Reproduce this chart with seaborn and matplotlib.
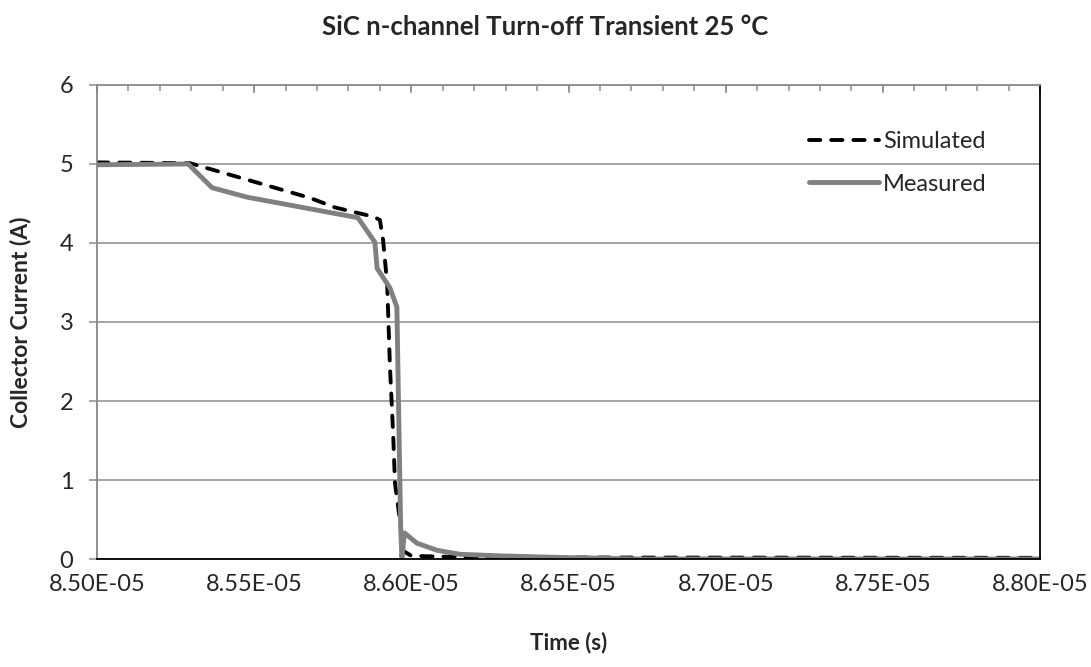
import numpy as np
import pandas as pd
import matplotlib
matplotlib.use("Agg")
import matplotlib.pyplot as plt
from matplotlib.ticker import FuncFormatter, NullFormatter
import seaborn as sns

# Simulated collector current during turn-off (time in s, current in A)
sim_time = [8.5000e-05, 8.5296e-05, 8.5678e-05, 8.5757e-05, 8.5882e-05, 8.5900e-05,
            8.5910e-05, 8.5923e-05, 8.5932e-05, 8.5942e-05, 8.5948e-05, 8.5965e-05,
            8.5975e-05, 8.6000e-05, 8.6200e-05, 8.8000e-05]
sim_current = [5.02, 5.01, 4.57, 4.45, 4.33, 4.29,
               4.04, 3.49, 2.43, 1.59, 0.96, 0.45,
               0.10, 0.04, 0.02, 0.015]

# Measured collector current
meas_time = [8.5000e-05, 8.5290e-05, 8.5366e-05, 8.5477e-05, 8.5830e-05, 8.5884e-05,
             8.5891e-05, 8.5932e-05, 8.5954e-05, 8.5966e-05, 8.5970e-05, 8.5978e-05,
             8.6018e-05, 8.6082e-05, 8.6155e-05, 8.6282e-05, 8.6473e-05, 8.6727e-05,
             8.8000e-05]
meas_current = [4.99, 5.00, 4.70, 4.58, 4.32, 4.01,
                3.68, 3.43, 3.19, 0.40, 0.02, 0.33,
                0.20, 0.11, 0.06, 0.04, 0.02, 0.00,
                0.00]

x_ticks = [8.50e-05, 8.55e-05, 8.60e-05, 8.65e-05, 8.70e-05, 8.75e-05, 8.80e-05]
y_ticks = [0, 1, 2, 3, 4, 5, 6]

sns.set_theme(style="white")
plt.rcParams["font.family"] = ["Lato", "DejaVu Sans"]

fig = plt.figure(figsize=(10.91, 6.67), dpi=100)
ax = fig.add_axes([0.0889, 0.1619, 0.8644, 0.7107])

sns.lineplot(x=sim_time, y=sim_current, ax=ax, color="black", linewidth=2.8,
             linestyle=(0, (2.9, 2.8)), label="Simulated", sort=False)
ax.lines[-1].set_dash_capstyle("round")
sns.lineplot(x=meas_time, y=meas_current, ax=ax, color="#808080", linewidth=3.5,
             label="Measured", sort=False)

ax.set_xlim(x_ticks[0], x_ticks[-1])
ax.set_ylim(y_ticks[0], y_ticks[-1])
ax.set_xticks(x_ticks)
ax.set_yticks(y_ticks)
ax.xaxis.set_major_formatter(FuncFormatter(lambda v, p: f"{v:.2E}"))

ax.grid(axis="y", color="#8c8c8c", linewidth=1.1)
ax.grid(axis="x", visible=False)
ax.set_axisbelow(True)

for side, col in (("left", "#868686"), ("top", "#8c8c8c"), ("right", "black"), ("bottom", "black")):
    ax.spines[side].set_color(col)
    ax.spines[side].set_linewidth(1.3)
    ax.spines[side].set_visible(True)

ax.tick_params(axis="x", which="major", bottom=False, top=True, direction="in",
               labelbottom=True, labeltop=False, color="#8c8c8c", width=1.1,
               length=6, labelsize=17, pad=11)
ax.tick_params(axis="y", which="major", left=True, direction="out", length=6,
               color="#8c8c8c", width=1.1, labelsize=17, pad=11)

# fine tick marks along the top edge, every 1e-8 s
top = ax.secondary_xaxis("top")
top.set_xticks(np.linspace(x_ticks[0], x_ticks[-1], 31))
top.xaxis.set_major_formatter(NullFormatter())
top.tick_params(axis="x", direction="in", length=4, width=1.1, color="#8c8c8c")
top.spines["top"].set_visible(False)

ax.set_xlabel("Time (s)", fontsize=16, fontweight="bold", labelpad=26)
ax.set_ylabel("Collector Current (A)", fontsize=16.5, fontweight="bold", labelpad=20)
fig.suptitle("SiC n-channel Turn-off Transient 25 °C", fontsize=18.5, fontweight="bold",
             x=0.5, y=0.978)

ax.legend(loc="upper left", bbox_to_anchor=(0.732, 0.948), frameon=False,
          fontsize=17, handlelength=3.0, handletextpad=0.15, labelspacing=0.92)

fig.savefig("out.png", dpi=100, facecolor="white")
